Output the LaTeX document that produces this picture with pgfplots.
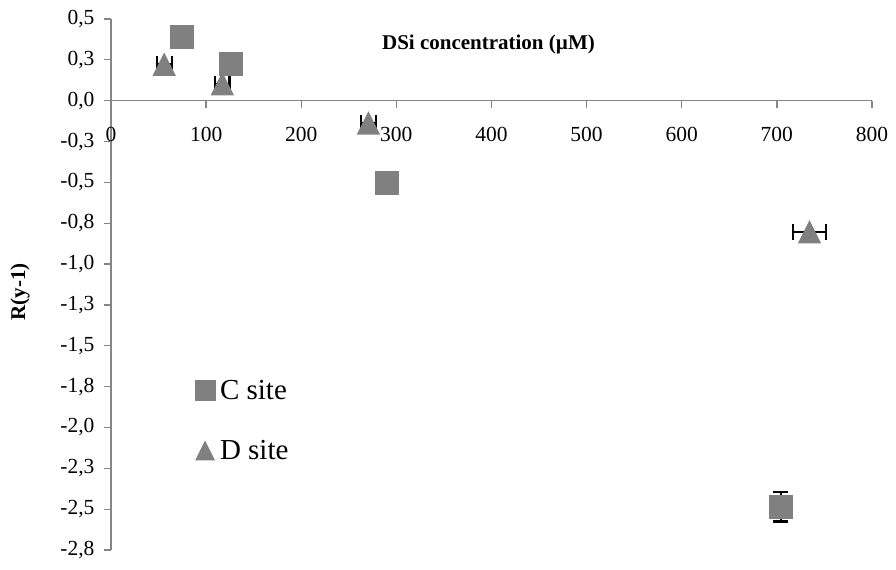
\documentclass[border=0pt]{standalone}
\usepackage{fontspec}
\setmainfont{Liberation Serif}
\usepackage{pgfplots}
\usepackage{pgfplotstable}
\pgfplotsset{compat=1.18}
\definecolor{mk}{HTML}{808080}
\definecolor{ax}{HTML}{858585}
\pgfdeclareplotmark{tri}{%
  \pgfpathmoveto{\pgfqpoint{0pt}{\pgfplotmarksize}}%
  \pgfpathlineto{\pgfqpoint{\pgfplotmarksize}{-\pgfplotmarksize}}%
  \pgfpathlineto{\pgfqpoint{-\pgfplotmarksize}{-\pgfplotmarksize}}%
  \pgfpathclose\pgfusepathqfill}
\pgfplotstableread{
x y ey
75.0 0.389 0
125.7 0.226 0
290.5 -0.504 0
704.2 -2.485 0.09
}\Csite
\pgfplotstableread{
x y ex
55.9 0.223 7.9
117.0 0.104 7.7
270.6 -0.136 7.7
734.3 -0.802 17.5
}\Dsite
\begin{document}
\begin{tikzpicture}
\begin{axis}[
  at={(111bp,20bp)}, anchor=south west,
  scale only axis, width=761bp, height=531bp,
  xmin=0, xmax=800, ymin=-2.75, ymax=0.5,
  clip=false,
  axis lines=middle,
  axis line style={-, draw=ax, line width=1.3bp},
  tick align=outside, major tick length=7bp,
  tick style={draw=ax, line width=1.3bp},
  hide obscured x ticks=false, hide obscured y ticks=false,
  xtick={0,100,200,300,400,500,600,700,800},
  ytick={-2.75,-2.5,-2.25,-2,-1.75,-1.5,-1.25,-1,-0.75,-0.5,-0.25,0,0.25,0.5},
  yticklabels={{-2,8},{-2,5},{-2,3},{-2,0},{-1,8},{-1,5},{-1,3},{-1,0},{-0,8},{-0,5},{-0,3},{0,0},{0,3},{0,5}},
  /pgf/number format/assume math mode=true,
  ticklabel style={font=\fontsize{21.5bp}{24bp}\selectfont},
  xticklabel style={anchor=north, yshift=-16bp},
  yticklabel style={anchor=east, xshift=-6bp},
  xlabel={DSi concentration (µM)},
  ylabel={R(y-1)},
  every axis x label/.style={at={(rel axis cs:0.496,0.9524)}, anchor=center, font=\bfseries\fontsize{21bp}{24bp}\selectfont},
  every axis y label/.style={at={(rel axis cs:-0.1196,0.486)}, anchor=center, rotate=90, font=\bfseries\fontsize{21bp}{24bp}\selectfont},
  legend style={at={(rel axis cs:0.1104,0.3296)}, anchor=north west, draw=none, fill=none,
    inner sep=0pt, outer sep=0pt, row sep=29bp, column sep=5bp,
    font=\fontsize{29bp}{31bp}\selectfont,
    nodes={inner sep=0pt, text height=25bp, text depth=6bp}},
  legend cell align=left,
  legend image code/.code={\draw[#1, mark size=10bp] plot coordinates {(0bp,0bp)};},
]
% error bars first (below markers)
\addplot[forget plot, draw=none, mark=none,
  error bars/.cd, y dir=both, y explicit,
  error bar style={black, line width=2bp},
  error mark options={black, rotate=90, line width=2.3bp, mark size=7.5bp}]
  table[x=x, y=y, y error=ey] {\Csite};
\addplot[forget plot, draw=none, mark=none,
  error bars/.cd, x dir=both, x explicit,
  error bar style={black, line width=2bp},
  error mark options={black, rotate=90, line width=2.3bp, mark size=8bp}]
  table[x=x, y=y, x error=ex] {\Dsite};
% markers
\addplot[mk, only marks, mark=square*, mark size=11.5bp, mark options={fill=mk, draw=mk, line width=0pt}]
  table[x=x, y=y] {\Csite};
\addlegendentry{C site}
\addplot[mk, only marks, mark=tri, mark size=11.7bp, mark options={fill=mk, draw=mk}]
  table[x=x, y=y] {\Dsite};
\addlegendentry{D site}
\end{axis}
\pgfresetboundingbox
\useasboundingbox (0,0) rectangle (896bp,570bp);
\end{tikzpicture}
\end{document}
